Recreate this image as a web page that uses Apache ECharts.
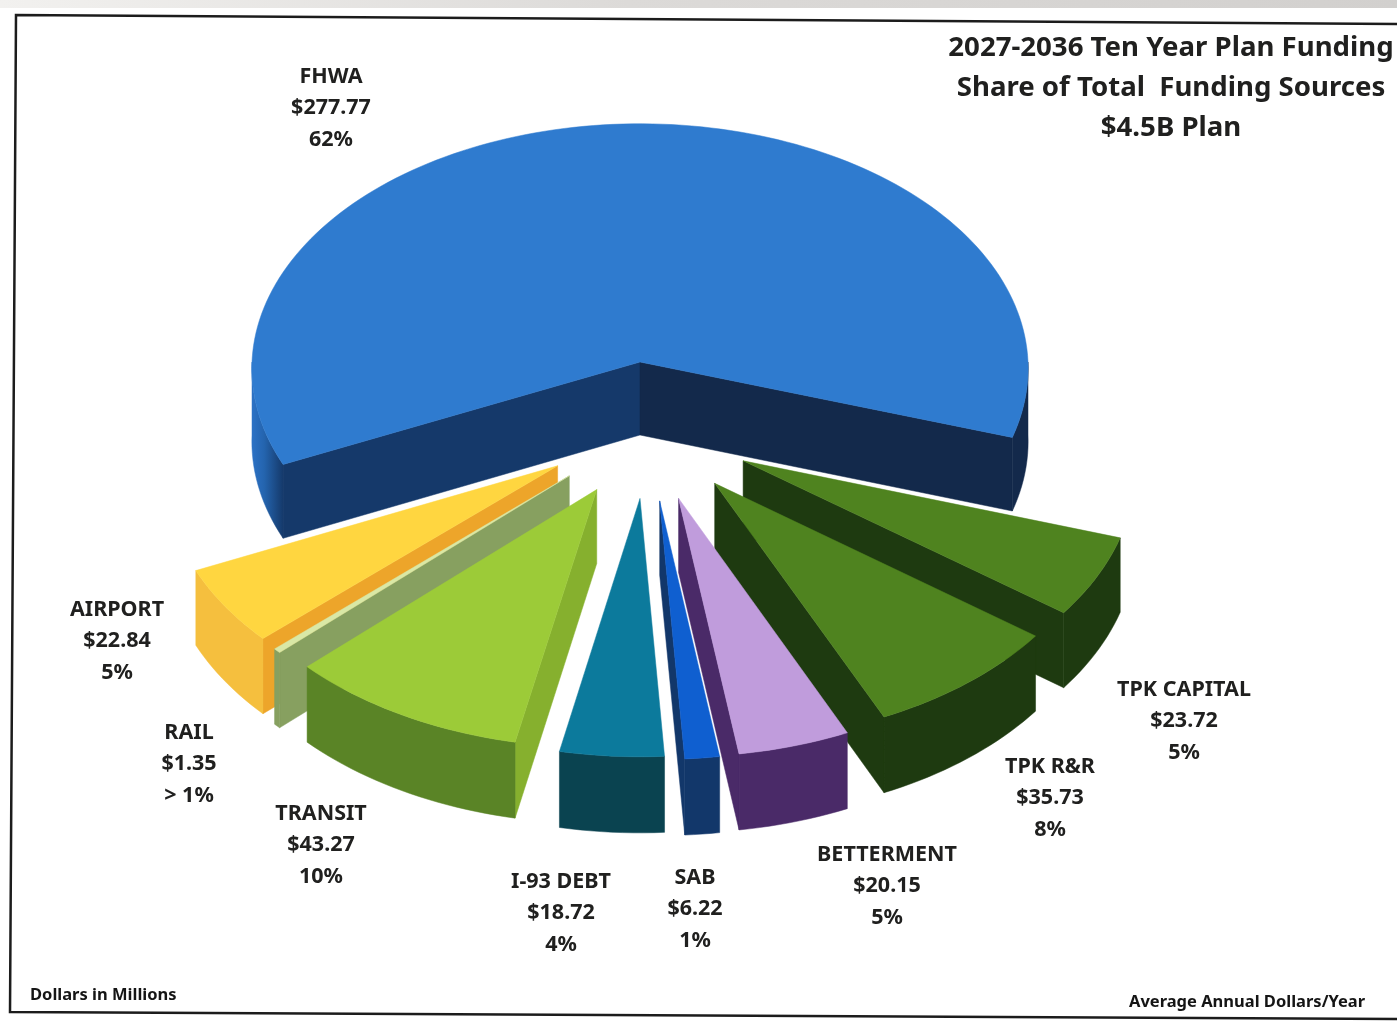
<!DOCTYPE html>
<html>
<head>
<meta charset="utf-8">
<style>html,body{margin:0;padding:0;background:#fff}#chart{width:1397px;height:1021px}</style>
<script src="https://cdn.jsdelivr.net/npm/echarts@6/dist/echarts.min.js"></script>
</head>
<body>
<div id="chart"></div>
<script>
// Funding sources, average annual dollars in millions, clockwise from FHWA.
const categories = ['FHWA', 'TPK CAPITAL', 'TPK R&R', 'BETTERMENT', 'SAB', 'I-93 DEBT', 'TRANSIT', 'RAIL', 'AIRPORT'];
const amounts = [277.77, 23.72, 35.73, 20.15, 6.22, 18.72, 43.27, 1.35, 22.84];
const shareLabels = ['62%', '5%', '8%', '5%', '1%', '4%', '10%', '> 1%', '5%'];

// Pull-out of each wedge, in pie radii across and towards the viewer.
const pullX = [0, 0.263, 0.19, 0.098, 0.05, 0, -0.11, -0.18, -0.21];
const pullY = [0, 0.40, 0.49, 0.55, 0.56, 0.55, 0.515, 0.46, 0.42];

// Label anchors (centre of the middle text line).
const labelX = [331, 1184, 1050, 887, 695, 561, 321, 189, 117];
const labelY = [108, 721, 798, 886, 909, 913, 845, 764, 641];

// Colours: top face, the two radial cut faces, outer rim.
const topColors = ['#2f7bcf', '#4f831f', '#4f831f', '#c09cdc', '#0f5fd0', '#0c7a9c', '#9ccb38', '#d9e8a6', '#ffd640'];
const cutColors = ['#15396a', '#1e3a10', '#1e3a10', '#4a2a68', '#12376a', '#0a4350', '#86b02e', '#87a060', '#eda52a'];
const farCutColors = ['#13294b', '#1e3a10', '#1e3a10', '#4a2a68', '#12376a', '#0a4350', '#86b02e', '#87a060', '#eda52a'];
const rimColors = ['#13294b', '#1e3a10', '#1e3a10', '#4a2a68', '#12376a', '#0a4350', '#5a8426', '#87a060', '#f5bf3e'];

// Horizontal light falloff on the rims that show it.
const rimShades = {
  0: [['#2c72c6', 0], ['#2464ae', 0.4], ['#15396a', 1]],
  6: [['#6f9c2b', 0], ['#5e8a26', 0.55], ['#517b22', 1]]
};

// Painting order, far wedges first.
const paintOrder = [0, 1, 8, 2, 7, 6, 3, 5, 4];

// View of the tilted disc.
const view = { cx: 640, cy: 362, radius: 388, tilt: 0.63, persp: 0.026, depth: 73, start: 155.5 };

const total = amounts.reduce((a, b) => a + b, 0);
const startAngles = [];
amounts.reduce((angle, v, i) => {
  startAngles[i] = angle;
  return angle + v / total * 360;
}, view.start);

function project(x, y, z) {
  const s = 1 / (1 - view.persp * y);
  return [
    view.cx + view.radius * x * s,
    view.cy + view.radius * view.tilt * y * s + view.depth * z * s
  ];
}

function arcPoints(i, from, to, z) {
  const pts = [];
  const n = Math.max(2, Math.ceil(Math.abs(to - from) / 1.5));
  for (let k = 0; k <= n; k++) {
    const a = (from + (to - from) * k / n) * Math.PI / 180;
    pts.push(project(pullX[i] + Math.cos(a), pullY[i] + Math.sin(a), z));
  }
  return pts;
}

function face(points, fill) {
  return {
    type: 'polygon',
    shape: { points: points },
    style: { fill: fill, stroke: fill, lineWidth: 0.5 }
  };
}

function rimFace(i, from, to) {
  const top = arcPoints(i, from, to, 0);
  const bottom = arcPoints(i, from, to, 1).reverse();
  let fill = rimColors[i];
  // The right-hand part of the back disc stays in shadow.
  if (rimShades[i] && from < 360) {
    fill = new echarts.graphic.LinearGradient(0, 0, 1, 0,
      rimShades[i].map(([color, offset]) => ({ offset, color })));
  }
  return face(top.concat(bottom), fill);
}

function wedge(i) {
  const a0 = startAngles[i];
  const a1 = a0 + amounts[i] / total * 360;
  const apexTop = project(pullX[i], pullY[i], 0);
  const apexBottom = project(pullX[i], pullY[i], 1);
  const children = [];

  const cut = (angle, color) => {
    const r = angle * Math.PI / 180;
    const edgeX = pullX[i] + Math.cos(r);
    const edgeY = pullY[i] + Math.sin(r);
    return face([apexTop, project(edgeX, edgeY, 0), project(edgeX, edgeY, 1), apexBottom], color);
  };
  if (Math.sin((a0 - 90) * Math.PI / 180) > 0) children.push(cut(a0, cutColors[i]));
  if (Math.sin((a1 + 90) * Math.PI / 180) > 0) children.push(cut(a1, farCutColors[i]));

  // Only the part of the rim in front of the disc's horizon is visible.
  [[0, 180], [360, 540]].forEach(([lo, hi]) => {
    const from = Math.max(a0, lo);
    const to = Math.min(a1, hi);
    if (to > from) children.push(rimFace(i, from, to));
  });

  children.push(face([apexTop].concat(arcPoints(i, a0, a1, 0)), topColors[i]));
  return children;
}

const ink = '#20201f';
const labelFont = '"Noto Sans", sans-serif';

function labelText(i) {
  return {
    type: 'text',
    style: {
      x: labelX[i],
      y: labelY[i],
      text: categories[i] + '\n$' + amounts[i].toFixed(2) + '\n' + shareLabels[i],
      fill: ink,
      font: 'bold 21.5px ' + labelFont,
      lineHeight: 31.5,
      align: 'center',
      verticalAlign: 'middle'
    }
  };
}

const chart = echarts.init(document.getElementById('chart'));
chart.setOption({
  backgroundColor: '#ffffff',
  animation: false,
  title: [
    {
      text: '2027-2036 Ten Year Plan Funding\nShare of Total  Funding Sources\n$4.5B Plan',
      left: 1171,
      top: 28,
      padding: 0,
      textAlign: 'center',
      textStyle: { fontFamily: labelFont, fontWeight: 'bold', fontSize: 27.6, lineHeight: 40, color: ink, align: 'center' }
    },
    {
      text: 'Dollars in Millions',
      left: 30,
      top: 986,
      padding: 0,
      textStyle: { fontFamily: labelFont, fontWeight: 'bold', fontSize: 16.5, lineHeight: 18, color: '#151515' }
    },
    {
      text: 'Average Annual Dollars/Year',
      left: 1129,
      top: 993,
      padding: 0,
      textStyle: { fontFamily: labelFont, fontWeight: 'bold', fontSize: 16.5, lineHeight: 18, color: '#151515' }
    }
  ],
  graphic: [
    {
      type: 'rect',
      shape: { x: 0, y: 0, width: 1397, height: 8 },
      style: {
        fill: new echarts.graphic.LinearGradient(0, 0, 1, 0, [
          { offset: 0, color: '#f2f1ef' },
          { offset: 0.45, color: '#dcdad8' },
          { offset: 1, color: '#d2d0ce' }
        ])
      }
    },
    {
      type: 'polyline',
      shape: { points: [[1397, 24], [16, 15], [10, 1012], [1397, 1019]] },
      style: { fill: 'none', stroke: '#1c1c1c', lineWidth: 2.5 }
    }
  ],
  series: [
    {
      type: 'custom',
      coordinateSystem: 'none',
      data: paintOrder.map(i => [i, amounts[i]]),
      renderItem: (params, api) => ({
        type: 'group',
        children: wedge(api.value(0)).concat(labelText(api.value(0)))
      })
    }
  ]
});
</script>
</body>
</html>
